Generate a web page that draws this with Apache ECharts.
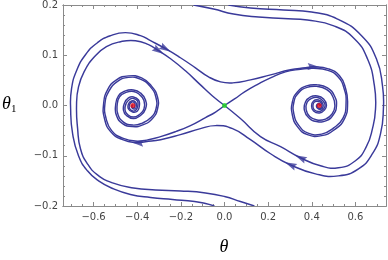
<!DOCTYPE html>
<html><head><meta charset="utf-8">
<script src="https://cdn.jsdelivr.net/npm/echarts@6/dist/echarts.min.js"></script>
<style>html,body{margin:0;padding:0;background:#fff}#c{width:388px;height:260px}</style>
</head><body><div id="c"></div>
<script>
// ---- axis ticks / labels ----
const X_MIN = -0.74, X_MAX = 0.74, Y_MIN = -0.2, Y_MAX = 0.2;
const xMajor = [-0.6, -0.4, -0.2, 0, 0.2, 0.4, 0.6];
const xMinor = [-0.7,-0.65,-0.55,-0.5,-0.45,-0.35,-0.3,-0.25,-0.15,-0.1,-0.05,0.05,0.1,0.15,0.25,0.3,0.35,0.45,0.5,0.55,0.65,0.7];
const yMajor = [-0.2, -0.1, 0, 0.1, 0.2];
const yMinor = [-0.18,-0.16,-0.14,-0.12,-0.08,-0.06,-0.04,-0.02,0.02,0.04,0.06,0.08,0.12,0.14,0.16,0.18];
const xTitle = 'θ';
const yTitle = 'θ';
const yTitleSub = '1';

// ---- trajectories (θ, θ1), in direction of motion ----
// stable manifold of the saddle, branch arriving from lower right
const stableRight = [[-0.142,0.2],[-0.05,0.192],[0.041,0.182],[0.156,0.176],[0.270,0.173],[0.380,0.170],[0.504,0.158],[0.595,0.133],[0.655,0.093],[0.687,0.039],[0.692,-0.007],[0.678,-0.046],[0.650,-0.082],[0.600,-0.110],[0.522,-0.124],[0.440,-0.120],[0.348,-0.104],[0.257,-0.082],[0.165,-0.062],[0.073,-0.026],[0,0]];
// stable manifold, branch arriving from upper left
const stableLeft = [[0.137,-0.2],[0.073,-0.191],[0,-0.181],[-0.087,-0.174],[-0.202,-0.170],[-0.316,-0.168],[-0.417,-0.164],[-0.513,-0.154],[-0.582,-0.138],[-0.628,-0.116],[-0.660,-0.086],[-0.673,-0.046],[-0.678,0],[-0.669,0.037],[-0.641,0.069],[-0.596,0.097],[-0.541,0.117],[-0.476,0.127],[-0.408,0.129],[-0.348,0.121],[-0.302,0.109],[-0.247,0.093],[-0.179,0.069],[-0.110,0.041],[-0.055,0.019],[0,0]];
// outer top trajectory: passes below the saddle and ends in the left well
const trajTop = [[0.018,0.2],[0.119,0.194],[0.270,0.190],[0.399,0.186],[0.518,0.172],[0.628,0.139],[0.696,0.093],[0.724,0.039],[0.728,-0.007],[0.715,-0.056],[0.678,-0.096],[0.614,-0.126],[0.522,-0.140],[0.417,-0.136],[0.302,-0.118],[0.211,-0.096],[0.119,-0.068],[0.037,-0.046],[-0.041,-0.040],[-0.110,-0.046],[-0.202,-0.058],[-0.293,-0.068],[-0.362,-0.072],
 [-0.399,-0.074],[-0.467,-0.068],[-0.522,-0.052],[-0.550,-0.026],[-0.554,0.003],[-0.536,0.031],[-0.495,0.051],[-0.440,0.059],[-0.380,0.055],[-0.335,0.039],[-0.307,0.017],[-0.307,-0.007],[-0.330,-0.026],[-0.371,-0.038],[-0.421,-0.042],[-0.467,-0.036],[-0.495,-0.020],[-0.499,0],[-0.486,0.019],[-0.454,0.029],[-0.417,0.031],[-0.385,0.025],[-0.362,0.011],[-0.362,-0.007],[-0.385,-0.020],[-0.417,-0.026],[-0.449,-0.020],[-0.463,-0.009],[-0.458,0.005],[-0.440,0.015],[-0.417,0.017],[-0.394,0.011],[-0.390,0],[-0.399,-0.011],[-0.421,-0.013],[-0.440,-0.007],[-0.440,0.003],[-0.426,0.009],[-0.408,0.007],[-0.403,0],[-0.412,-0.007],[-0.426,-0.003],[-0.421,0.001],[-0.42,0]];
// outer bottom trajectory: passes above the saddle and ends in the right well
const trajBottom = [[-0.046,-0.2],[-0.087,-0.195],[-0.137,-0.191],[-0.238,-0.187],[-0.339,-0.183],[-0.431,-0.177],[-0.508,-0.166],[-0.577,-0.150],[-0.628,-0.130],[-0.669,-0.100],[-0.696,-0.056],[-0.705,-0.007],[-0.701,0.033],[-0.678,0.069],[-0.637,0.101],[-0.582,0.125],[-0.522,0.139],[-0.454,0.145],[-0.385,0.139],[-0.339,0.129],[-0.270,0.113],[-0.202,0.095],[-0.133,0.075],[-0.073,0.057],[-0.018,0.047],[0.037,0.045],[0.119,0.051],[0.211,0.061],[0.302,0.071],[0.371,0.075],
 [0.408,0.077],[0.476,0.073],[0.527,0.059],[0.554,0.035],[0.564,0.005],[0.550,-0.026],[0.504,-0.048],[0.445,-0.060],[0.380,-0.058],[0.334,-0.042],[0.311,-0.019],[0.311,0.007],[0.334,0.027],[0.376,0.039],[0.426,0.041],[0.472,0.035],[0.504,0.019],[0.513,-0.001],[0.499,-0.018],[0.467,-0.030],[0.421,-0.032],[0.385,-0.024],[0.366,-0.009],[0.371,0.007],[0.394,0.017],[0.426,0.019],[0.454,0.013],[0.467,0.001],[0.458,-0.009],[0.435,-0.015],[0.408,-0.011],[0.399,-0.001],[0.408,0.009],[0.431,0.011],[0.449,0.005],[0.449,-0.005],[0.431,-0.007],[0.421,-0.001],[0.431,0.004],[0.440,0.001],[0.434,0]];
// unstable manifold, branch leaving the saddle to the lower left (left well)
const unstableLeft = [[0,0],[-0.041,-0.013],[-0.087,-0.024],[-0.156,-0.040],[-0.224,-0.052],[-0.293,-0.062],[-0.348,-0.068],
 [-0.399,-0.071],[-0.467,-0.065],[-0.517,-0.050],[-0.543,-0.025],[-0.548,0.003],[-0.529,0.029],[-0.490,0.048],[-0.440,0.056],[-0.383,0.052],[-0.339,0.037],[-0.314,0.016],[-0.314,-0.007],[-0.337,-0.024],[-0.376,-0.035],[-0.421,-0.039],[-0.463,-0.033],[-0.488,-0.018],[-0.492,0],[-0.481,0.017],[-0.451,0.026],[-0.417,0.028],[-0.390,0.022],[-0.369,0.010],[-0.369,-0.007],[-0.390,-0.018],[-0.417,-0.023],[-0.444,-0.018],[-0.456,-0.009],[-0.451,0.004],[-0.435,0.012],[-0.417,0.014],[-0.399,0.009],[-0.397,0],[-0.406,-0.009],[-0.421,-0.011],[-0.435,-0.006],[-0.435,0.002],[-0.424,0.007],[-0.412,0.005],[-0.410,0],[-0.417,-0.005],[-0.426,-0.002],[-0.42,0]];
// unstable manifold, branch leaving the saddle to the upper right (right well)
const unstableRight = [[0,0],[0.046,0.013],[0.092,0.027],[0.156,0.043],[0.211,0.055],[0.279,0.067],[0.348,0.072],
 [0.408,0.074],[0.474,0.070],[0.520,0.057],[0.548,0.034],[0.557,0.005],[0.543,-0.025],[0.499,-0.045],[0.445,-0.057],[0.383,-0.055],[0.341,-0.040],[0.318,-0.017],[0.318,0.007],[0.339,0.025],[0.378,0.036],[0.426,0.038],[0.467,0.032],[0.497,0.017],[0.506,-0.001],[0.493,-0.017],[0.463,-0.027],[0.424,-0.029],[0.390,-0.022],[0.374,-0.008],[0.378,0.006],[0.399,0.014],[0.426,0.016],[0.449,0.010],[0.461,0.001],[0.454,-0.007],[0.435,-0.012],[0.412,-0.009],[0.405,-0.001],[0.412,0.007],[0.431,0.008],[0.445,0.004],[0.443,-0.004],[0.431,-0.005],[0.426,0],[0.433,0.003],[0.437,0],[0.434,0]];
const stableFixed = [[-0.42, 0], [0.434, 0]];
const saddle = [[0, 0]];
// arrowheads: [trajectory name, point index]
const arrowAt = [['trajBottom',20],['stableLeft',20],['trajBottom',30],['stableRight',16],['trajTop',14],['trajTop',23]];

const LINE = '#3a3a9a', FRAME = '#8a8a8a', LABEL = '#444';
const trajs = {stableRight, stableLeft, trajTop, trajBottom, unstableLeft, unstableRight};
const fmt = v => (v < 0 ? '\u2212' : '') + Math.abs(v).toFixed(1);

function xAx(pos, ticks, len, labels) {
  return {type:'value', gridIndex:0, position:pos, offset:0, min:X_MIN, max:X_MAX,
    axisLine:{show:true, onZero:false, lineStyle:{color:FRAME, width:1}},
    axisTick:{show:true, inside:true, length:len, customValues:ticks, lineStyle:{color:FRAME, width:1}},
    axisLabel: labels ? {show:true, customValues:xMajor, formatter:fmt, color:LABEL, fontSize:10, fontFamily:'DejaVu Sans', margin:6} : {show:false},
    splitLine:{show:false}};
}
function yAx(pos, ticks, len, labels) {
  return {type:'value', gridIndex:0, position:pos, offset:0, min:Y_MIN, max:Y_MAX,
    axisLine:{show:true, onZero:false, lineStyle:{color:FRAME, width:1}},
    axisTick:{show:true, inside:true, length:len, customValues:ticks, lineStyle:{color:FRAME, width:1}},
    axisLabel: labels ? {show:true, customValues:yMajor, formatter:fmt, color:LABEL, fontSize:10, fontFamily:'DejaVu Sans', margin:5} : {show:false},
    splitLine:{show:false}};
}

// each trajectory: custom series, one smooth polyline through its own data, placed with the axes' scales
function trajSeries(name, pts) {
  return {name, type:'custom', coordinateSystem:'cartesian2d', xAxisIndex:0, yAxisIndex:0, data:pts,
    silent:true, animation:false, z:2,
    renderItem:(params, api) => {
      if (params.dataIndexInside !== 0) return null;
      const P = [];
      for (let i = 0; i < pts.length; i++) P.push(api.coord([api.value(0, i), api.value(1, i)]));
      const cs = params.coordSys;
      return {type:'polyline', shape:{points:P, smooth:0.5}, style:{stroke:LINE, lineWidth:1.45, fill:null},
        clipPath:{type:'rect', shape:{x:cs.x, y:cs.y, width:cs.width, height:cs.height}}};
    }};
}

const chart = echarts.init(document.getElementById('c'), null, {renderer:'canvas'});
const series = Object.keys(trajs).map(k => trajSeries(k, trajs[k]));
series.push({type:'scatter', xAxisIndex:0, yAxisIndex:0, data:stableFixed, symbolSize:5, itemStyle:{color:'#e8101a'}, z:5, animation:false});
series.push({type:'scatter', xAxisIndex:0, yAxisIndex:0, data:saddle, symbolSize:5, itemStyle:{color:'#22dd22'}, z:5, animation:false});

const option = {
  animation:false,
  grid:{left:63, right:2, top:5, bottom:54},
  xAxis:[xAx('bottom', xMajor, 4, true), xAx('bottom', xMinor, 2, false), xAx('top', xMajor, 4, false), xAx('top', xMinor, 2, false)],
  yAxis:[yAx('left', yMajor, 4, true), yAx('left', yMinor, 2, false), yAx('right', yMajor, 4, false), yAx('right', yMinor, 2, false)],
  series:series,
  graphic:[
    {type:'text', x:224, y:247, style:{text:xTitle, font:'italic 18px "Liberation Serif"', fill:'#000', align:'center', verticalAlign:'middle'}},
    {type:'text', x:2, y:104, style:{text:yTitle, font:'italic 18px "Liberation Serif"', fill:'#000', align:'left', verticalAlign:'middle'}},
    {type:'text', x:11, y:109, style:{text:yTitleSub, font:'11px "Liberation Serif"', fill:'#000', align:'left', verticalAlign:'middle'}}
  ]
};
chart.setOption(option);

// arrowheads oriented along the trajectory, placed on its own points
const arrowData = arrowAt.map(([name, i]) => {
  const pts = trajs[name];
  const a = chart.convertToPixel({gridIndex:0}, pts[i-1]);
  const b = chart.convertToPixel({gridIndex:0}, pts[i+1]);
  const ang = Math.atan2(-(b[1]-a[1]), b[0]-a[0]) * 180 / Math.PI;
  return {value:pts[i], symbolRotate:ang};
});
chart.setOption({series:[...series, {type:'scatter', xAxisIndex:0, yAxisIndex:0, data:arrowData,
  symbol:'path://M0,0L10,4L0,8L1.5,4Z', symbolSize:[12,7], itemStyle:{color:LINE}, z:4, animation:false}]});
</script>
</body></html>
